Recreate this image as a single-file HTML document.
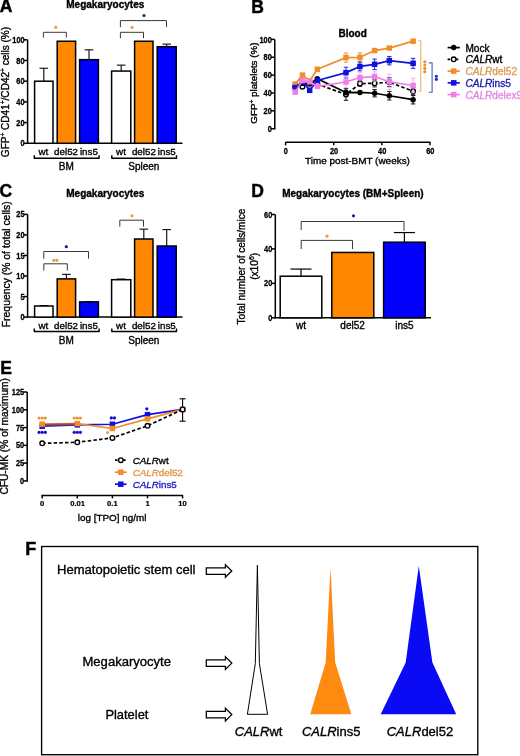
<!DOCTYPE html>
<html><head><meta charset="utf-8"><style>
html,body{margin:0;padding:0;background:#fff;}
body{width:520px;height:756px;overflow:hidden;}
svg{display:block;will-change:transform;font-family:"Liberation Sans",sans-serif;}
</style></head><body>
<svg width="520" height="756" viewBox="0 0 520 756">
<rect x="0" y="0" width="520" height="756" fill="#fff"/>
<text x="-0.30" y="12.30" font-size="17.5" font-weight="bold" text-anchor="start" fill="#000" stroke="#000" stroke-width="0.45"  >A</text>
<text x="251.30" y="12.70" font-size="17.5" font-weight="bold" text-anchor="start" fill="#000" stroke="#000" stroke-width="0.45"  >B</text>
<text x="-0.60" y="197.10" font-size="17.5" font-weight="bold" text-anchor="start" fill="#000" stroke="#000" stroke-width="0.45"  >C</text>
<text x="251.30" y="197.10" font-size="17.5" font-weight="bold" text-anchor="start" fill="#000" stroke="#000" stroke-width="0.45"  >D</text>
<text x="0.20" y="373.60" font-size="17.5" font-weight="bold" text-anchor="start" fill="#000" stroke="#000" stroke-width="0.45"  >E</text>
<text x="25.20" y="554.60" font-size="18" font-weight="bold" text-anchor="start" fill="#000" stroke="#000" stroke-width="0.45"  >F</text>
<text x="66.20" y="7.60" font-size="10.05" font-weight="bold" text-anchor="start" fill="#000" stroke="#000" stroke-width="0.35"  >Megakaryocytes</text>
<line x1="27.60" y1="39.80" x2="27.60" y2="144.05" stroke="#000" stroke-width="1.5" />
<line x1="23.60" y1="143.30" x2="27.60" y2="143.30" stroke="#000" stroke-width="1.5" />
<text transform="translate(24.60,146.40) scale(0.86,1)" font-size="8.6" font-weight="bold" text-anchor="end" fill="#000" stroke="#000" stroke-width="0.3">0</text>
<line x1="23.60" y1="122.60" x2="27.60" y2="122.60" stroke="#000" stroke-width="1.5" />
<text transform="translate(24.60,125.70) scale(0.86,1)" font-size="8.6" font-weight="bold" text-anchor="end" fill="#000" stroke="#000" stroke-width="0.3">20</text>
<line x1="23.60" y1="101.90" x2="27.60" y2="101.90" stroke="#000" stroke-width="1.5" />
<text transform="translate(24.60,105.00) scale(0.86,1)" font-size="8.6" font-weight="bold" text-anchor="end" fill="#000" stroke="#000" stroke-width="0.3">40</text>
<line x1="23.60" y1="81.20" x2="27.60" y2="81.20" stroke="#000" stroke-width="1.5" />
<text transform="translate(24.60,84.30) scale(0.86,1)" font-size="8.6" font-weight="bold" text-anchor="end" fill="#000" stroke="#000" stroke-width="0.3">60</text>
<line x1="23.60" y1="60.50" x2="27.60" y2="60.50" stroke="#000" stroke-width="1.5" />
<text transform="translate(24.60,63.60) scale(0.86,1)" font-size="8.6" font-weight="bold" text-anchor="end" fill="#000" stroke="#000" stroke-width="0.3">80</text>
<line x1="23.60" y1="39.80" x2="27.60" y2="39.80" stroke="#000" stroke-width="1.5" />
<text transform="translate(24.60,42.90) scale(0.86,1)" font-size="8.6" font-weight="bold" text-anchor="end" fill="#000" stroke="#000" stroke-width="0.3">100</text>
<line x1="26.85" y1="143.30" x2="182.50" y2="143.30" stroke="#000" stroke-width="1.5" />
<line x1="43.80" y1="68.26" x2="43.80" y2="81.20" stroke="#111" stroke-width="1.15" />
<line x1="39.50" y1="68.26" x2="48.10" y2="68.26" stroke="#111" stroke-width="1.15" />
<rect x="34.60" y="81.20" width="18.40" height="62.10" fill="#fff" stroke="#000" stroke-width="1.5"/>
<rect x="57.20" y="41.25" width="18.40" height="102.05" fill="#ff8800" stroke="#000" stroke-width="1.5"/>
<line x1="89.00" y1="49.84" x2="89.00" y2="59.67" stroke="#111" stroke-width="1.15" />
<line x1="84.70" y1="49.84" x2="93.30" y2="49.84" stroke="#111" stroke-width="1.15" />
<rect x="79.60" y="59.67" width="18.80" height="83.63" fill="#0000fc" stroke="#000" stroke-width="1.5"/>
<line x1="121.20" y1="65.16" x2="121.20" y2="71.06" stroke="#111" stroke-width="1.15" />
<line x1="116.90" y1="65.16" x2="125.50" y2="65.16" stroke="#111" stroke-width="1.15" />
<rect x="111.60" y="71.06" width="19.20" height="72.24" fill="#fff" stroke="#000" stroke-width="1.5"/>
<rect x="134.60" y="41.25" width="18.40" height="102.05" fill="#ff8800" stroke="#000" stroke-width="1.5"/>
<line x1="166.70" y1="44.15" x2="166.70" y2="46.73" stroke="#111" stroke-width="1.15" />
<line x1="162.40" y1="44.15" x2="171.00" y2="44.15" stroke="#111" stroke-width="1.15" />
<rect x="157.20" y="46.73" width="19.00" height="96.57" fill="#0000fc" stroke="#000" stroke-width="1.5"/>
<text x="43.40" y="154.90" font-size="9.8" font-weight="normal" text-anchor="middle" fill="#000" stroke="#000" stroke-width="0.35"  >wt</text>
<text x="66.10" y="154.90" font-size="9.8" font-weight="normal" text-anchor="middle" fill="#000" stroke="#000" stroke-width="0.35"  >del52</text>
<text x="88.90" y="154.90" font-size="9.8" font-weight="normal" text-anchor="middle" fill="#000" stroke="#000" stroke-width="0.35"  >ins5</text>
<text x="121.00" y="154.90" font-size="9.8" font-weight="normal" text-anchor="middle" fill="#000" stroke="#000" stroke-width="0.35"  >wt</text>
<text x="143.90" y="154.90" font-size="9.8" font-weight="normal" text-anchor="middle" fill="#000" stroke="#000" stroke-width="0.35"  >del52</text>
<text x="166.80" y="154.90" font-size="9.8" font-weight="normal" text-anchor="middle" fill="#000" stroke="#000" stroke-width="0.35"  >ins5</text>
<polyline points="34.30,155.30 34.30,158.30 99.10,158.30 99.10,155.30" fill="none" stroke="#000" stroke-width="1.45" stroke-linejoin="round" stroke-linejoin="miter"/>
<polyline points="111.80,155.30 111.80,158.30 176.50,158.30 176.50,155.30" fill="none" stroke="#000" stroke-width="1.45" stroke-linejoin="round" stroke-linejoin="miter"/>
<text x="66.30" y="169.60" font-size="10" font-weight="normal" text-anchor="middle" fill="#000" stroke="#000" stroke-width="0.35"  >BM</text>
<text x="143.80" y="169.60" font-size="10" font-weight="normal" text-anchor="middle" fill="#000" stroke="#000" stroke-width="0.35"  >Spleen</text>
<text transform="translate(8.90,92.00) rotate(-90)" x="0" y="0" font-size="10.05" font-weight="normal" text-anchor="middle" fill="#000" stroke="#000" stroke-width="0.35">GFP<tspan font-size="6.5" dy="-3.5">+</tspan><tspan dy="3.5"> CD41</tspan><tspan font-size="6.5" dy="-3.5">+</tspan><tspan dy="3.5">/CD42</tspan><tspan font-size="6.5" dy="-3.5">+</tspan><tspan dy="3.5"> cells (%)</tspan></text>
<polyline points="43.40,37.60 43.40,32.30 66.30,32.30 66.30,37.60" fill="none" stroke="#383838" stroke-width="1.0" stroke-linejoin="round" />
<circle cx="55.80" cy="27.40" r="1.60" fill="#e4a050"/>
<polyline points="120.40,27.20 120.40,20.60 166.50,20.60 166.50,27.20" fill="none" stroke="#383838" stroke-width="1.0" stroke-linejoin="round" />
<circle cx="144.00" cy="15.50" r="1.60" fill="#202090"/>
<polyline points="120.40,38.20 120.40,32.30 143.50,32.30 143.50,38.20" fill="none" stroke="#383838" stroke-width="1.0" stroke-linejoin="round" />
<circle cx="132.10" cy="27.30" r="1.60" fill="#e4a050"/>
<text x="66.20" y="196.60" font-size="10.05" font-weight="bold" text-anchor="start" fill="#000" stroke="#000" stroke-width="0.35"  >Megakaryocytes</text>
<line x1="27.60" y1="214.35" x2="27.60" y2="317.85" stroke="#000" stroke-width="1.5" />
<line x1="23.60" y1="317.10" x2="27.60" y2="317.10" stroke="#000" stroke-width="1.5" />
<text transform="translate(24.60,320.20) scale(0.86,1)" font-size="8.6" font-weight="bold" text-anchor="end" fill="#000" stroke="#000" stroke-width="0.3">0</text>
<line x1="23.60" y1="296.55" x2="27.60" y2="296.55" stroke="#000" stroke-width="1.5" />
<text transform="translate(24.60,299.65) scale(0.86,1)" font-size="8.6" font-weight="bold" text-anchor="end" fill="#000" stroke="#000" stroke-width="0.3">5</text>
<line x1="23.60" y1="276.00" x2="27.60" y2="276.00" stroke="#000" stroke-width="1.5" />
<text transform="translate(24.60,279.10) scale(0.86,1)" font-size="8.6" font-weight="bold" text-anchor="end" fill="#000" stroke="#000" stroke-width="0.3">10</text>
<line x1="23.60" y1="255.45" x2="27.60" y2="255.45" stroke="#000" stroke-width="1.5" />
<text transform="translate(24.60,258.55) scale(0.86,1)" font-size="8.6" font-weight="bold" text-anchor="end" fill="#000" stroke="#000" stroke-width="0.3">15</text>
<line x1="23.60" y1="234.90" x2="27.60" y2="234.90" stroke="#000" stroke-width="1.5" />
<text transform="translate(24.60,238.00) scale(0.86,1)" font-size="8.6" font-weight="bold" text-anchor="end" fill="#000" stroke="#000" stroke-width="0.3">20</text>
<line x1="23.60" y1="214.35" x2="27.60" y2="214.35" stroke="#000" stroke-width="1.5" />
<text transform="translate(24.60,217.45) scale(0.86,1)" font-size="8.6" font-weight="bold" text-anchor="end" fill="#000" stroke="#000" stroke-width="0.3">25</text>
<line x1="26.85" y1="317.10" x2="182.50" y2="317.10" stroke="#000" stroke-width="1.5" />
<line x1="43.80" y1="305.59" x2="43.80" y2="306.00" stroke="#111" stroke-width="1.15" />
<line x1="39.50" y1="305.59" x2="48.10" y2="305.59" stroke="#111" stroke-width="1.15" />
<rect x="34.60" y="306.00" width="18.40" height="11.10" fill="#fff" stroke="#000" stroke-width="1.5"/>
<line x1="66.40" y1="274.36" x2="66.40" y2="278.88" stroke="#111" stroke-width="1.15" />
<line x1="62.10" y1="274.36" x2="70.70" y2="274.36" stroke="#111" stroke-width="1.15" />
<rect x="57.20" y="278.88" width="18.40" height="38.22" fill="#ff8800" stroke="#000" stroke-width="1.5"/>
<line x1="89.00" y1="301.69" x2="89.00" y2="301.89" stroke="#111" stroke-width="1.15" />
<line x1="84.70" y1="301.69" x2="93.30" y2="301.69" stroke="#111" stroke-width="1.15" />
<rect x="79.60" y="301.89" width="18.80" height="15.21" fill="#0000fc" stroke="#000" stroke-width="1.5"/>
<line x1="121.20" y1="279.08" x2="121.20" y2="279.70" stroke="#111" stroke-width="1.15" />
<line x1="116.90" y1="279.08" x2="125.50" y2="279.08" stroke="#111" stroke-width="1.15" />
<rect x="111.60" y="279.70" width="19.20" height="37.40" fill="#fff" stroke="#000" stroke-width="1.5"/>
<line x1="143.80" y1="229.15" x2="143.80" y2="239.01" stroke="#111" stroke-width="1.15" />
<line x1="139.50" y1="229.15" x2="148.10" y2="229.15" stroke="#111" stroke-width="1.15" />
<rect x="134.60" y="239.01" width="18.40" height="78.09" fill="#ff8800" stroke="#000" stroke-width="1.5"/>
<line x1="166.70" y1="229.56" x2="166.70" y2="246.00" stroke="#111" stroke-width="1.15" />
<line x1="162.40" y1="229.56" x2="171.00" y2="229.56" stroke="#111" stroke-width="1.15" />
<rect x="157.20" y="246.00" width="19.00" height="71.10" fill="#0000fc" stroke="#000" stroke-width="1.5"/>
<text x="43.40" y="328.60" font-size="9.8" font-weight="normal" text-anchor="middle" fill="#000" stroke="#000" stroke-width="0.35"  >wt</text>
<text x="66.10" y="328.60" font-size="9.8" font-weight="normal" text-anchor="middle" fill="#000" stroke="#000" stroke-width="0.35"  >del52</text>
<text x="88.90" y="328.60" font-size="9.8" font-weight="normal" text-anchor="middle" fill="#000" stroke="#000" stroke-width="0.35"  >ins5</text>
<text x="121.00" y="328.60" font-size="9.8" font-weight="normal" text-anchor="middle" fill="#000" stroke="#000" stroke-width="0.35"  >wt</text>
<text x="143.90" y="328.60" font-size="9.8" font-weight="normal" text-anchor="middle" fill="#000" stroke="#000" stroke-width="0.35"  >del52</text>
<text x="166.80" y="328.60" font-size="9.8" font-weight="normal" text-anchor="middle" fill="#000" stroke="#000" stroke-width="0.35"  >ins5</text>
<polyline points="34.30,328.40 34.30,331.40 99.10,331.40 99.10,328.40" fill="none" stroke="#000" stroke-width="1.45" stroke-linejoin="round" stroke-linejoin="miter"/>
<polyline points="111.80,328.40 111.80,331.40 176.50,331.40 176.50,328.40" fill="none" stroke="#000" stroke-width="1.45" stroke-linejoin="round" stroke-linejoin="miter"/>
<text x="66.30" y="343.60" font-size="10" font-weight="normal" text-anchor="middle" fill="#000" stroke="#000" stroke-width="0.35"  >BM</text>
<text x="143.80" y="343.60" font-size="10" font-weight="normal" text-anchor="middle" fill="#000" stroke="#000" stroke-width="0.35"  >Spleen</text>
<text transform="translate(9.50,264.30) rotate(-90)" x="0" y="0" font-size="10.4" font-weight="normal" text-anchor="middle" fill="#000" stroke="#000" stroke-width="0.35">Frequency (% of total cells)</text>
<polyline points="43.80,258.70 43.80,251.50 88.50,251.50 88.50,258.70" fill="none" stroke="#383838" stroke-width="1.0" stroke-linejoin="round" />
<circle cx="66.30" cy="246.70" r="1.60" fill="#202090"/>
<polyline points="43.80,270.50 43.80,263.80 67.30,263.80 67.30,270.50" fill="none" stroke="#383838" stroke-width="1.0" stroke-linejoin="round" />
<circle cx="53.85" cy="260.30" r="1.60" fill="#e4a050"/>
<circle cx="56.95" cy="260.30" r="1.60" fill="#e4a050"/>
<polyline points="119.80,226.60 119.80,220.20 143.50,220.20 143.50,226.60" fill="none" stroke="#383838" stroke-width="1.0" stroke-linejoin="round" />
<circle cx="132.00" cy="215.80" r="1.60" fill="#e4a050"/>
<text x="338.50" y="36.80" font-size="10.0" font-weight="bold" text-anchor="start" fill="#000" stroke="#000" stroke-width="0.35"  >Blood</text>
<line x1="274.80" y1="39.40" x2="274.80" y2="129.45" stroke="#000" stroke-width="1.5" />
<line x1="270.80" y1="128.70" x2="274.80" y2="128.70" stroke="#000" stroke-width="1.5" />
<text transform="translate(271.80,131.80) scale(0.86,1)" font-size="8.6" font-weight="bold" text-anchor="end" fill="#000" stroke="#000" stroke-width="0.3">0</text>
<line x1="270.80" y1="110.84" x2="274.80" y2="110.84" stroke="#000" stroke-width="1.5" />
<text transform="translate(271.80,113.94) scale(0.86,1)" font-size="8.6" font-weight="bold" text-anchor="end" fill="#000" stroke="#000" stroke-width="0.3">20</text>
<line x1="270.80" y1="92.98" x2="274.80" y2="92.98" stroke="#000" stroke-width="1.5" />
<text transform="translate(271.80,96.08) scale(0.86,1)" font-size="8.6" font-weight="bold" text-anchor="end" fill="#000" stroke="#000" stroke-width="0.3">40</text>
<line x1="270.80" y1="75.12" x2="274.80" y2="75.12" stroke="#000" stroke-width="1.5" />
<text transform="translate(271.80,78.22) scale(0.86,1)" font-size="8.6" font-weight="bold" text-anchor="end" fill="#000" stroke="#000" stroke-width="0.3">60</text>
<line x1="270.80" y1="57.26" x2="274.80" y2="57.26" stroke="#000" stroke-width="1.5" />
<text transform="translate(271.80,60.36) scale(0.86,1)" font-size="8.6" font-weight="bold" text-anchor="end" fill="#000" stroke="#000" stroke-width="0.3">80</text>
<line x1="270.80" y1="39.40" x2="274.80" y2="39.40" stroke="#000" stroke-width="1.5" />
<text transform="translate(271.80,42.50) scale(0.86,1)" font-size="8.6" font-weight="bold" text-anchor="end" fill="#000" stroke="#000" stroke-width="0.3">100</text>
<line x1="285.40" y1="142.30" x2="430.40" y2="142.30" stroke="#000" stroke-width="1.5" />
<line x1="285.60" y1="142.30" x2="285.60" y2="145.30" stroke="#000" stroke-width="1.5" />
<text transform="translate(285.90,153.60) scale(0.86,1)" font-size="8.6" font-weight="bold" text-anchor="middle" fill="#000" stroke="#000" stroke-width="0.3">0</text>
<line x1="333.72" y1="142.30" x2="333.72" y2="145.30" stroke="#000" stroke-width="1.5" />
<text transform="translate(334.02,153.60) scale(0.86,1)" font-size="8.6" font-weight="bold" text-anchor="middle" fill="#000" stroke="#000" stroke-width="0.3">20</text>
<line x1="381.84" y1="142.30" x2="381.84" y2="145.30" stroke="#000" stroke-width="1.5" />
<text transform="translate(382.14,153.60) scale(0.86,1)" font-size="8.6" font-weight="bold" text-anchor="middle" fill="#000" stroke="#000" stroke-width="0.3">40</text>
<line x1="429.96" y1="142.30" x2="429.96" y2="145.30" stroke="#000" stroke-width="1.5" />
<text transform="translate(430.26,153.60) scale(0.86,1)" font-size="8.6" font-weight="bold" text-anchor="middle" fill="#000" stroke="#000" stroke-width="0.3">60</text>
<text x="305.00" y="164.10" font-size="9.95" font-weight="normal" text-anchor="start" fill="#000" stroke="#000" stroke-width="0.35"  >Time post-BMT (weeks)</text>
<text transform="translate(257.40,83.10) rotate(-90)" x="0" y="0" font-size="9.8" font-weight="normal" text-anchor="middle" fill="#000" stroke="#000" stroke-width="0.35">GFP<tspan font-size="6.5" dy="-3.5">+</tspan><tspan dy="3.5"> platelets (%)</tspan></text>
<line x1="302.44" y1="85.39" x2="302.44" y2="88.07" stroke="#000" stroke-width="0.9" />
<line x1="300.24" y1="85.39" x2="304.64" y2="85.39" stroke="#000" stroke-width="0.9" />
<line x1="300.24" y1="88.07" x2="304.64" y2="88.07" stroke="#000" stroke-width="0.9" />
<line x1="309.66" y1="80.92" x2="309.66" y2="83.60" stroke="#000" stroke-width="0.9" />
<line x1="307.46" y1="80.92" x2="311.86" y2="80.92" stroke="#000" stroke-width="0.9" />
<line x1="307.46" y1="83.60" x2="311.86" y2="83.60" stroke="#000" stroke-width="0.9" />
<line x1="317.36" y1="82.71" x2="317.36" y2="85.39" stroke="#000" stroke-width="0.9" />
<line x1="315.16" y1="82.71" x2="319.56" y2="82.71" stroke="#000" stroke-width="0.9" />
<line x1="315.16" y1="85.39" x2="319.56" y2="85.39" stroke="#000" stroke-width="0.9" />
<line x1="345.99" y1="88.69" x2="345.99" y2="100.30" stroke="#000" stroke-width="0.9" />
<line x1="343.79" y1="88.69" x2="348.19" y2="88.69" stroke="#000" stroke-width="0.9" />
<line x1="343.79" y1="100.30" x2="348.19" y2="100.30" stroke="#000" stroke-width="0.9" />
<line x1="359.95" y1="80.92" x2="359.95" y2="86.28" stroke="#000" stroke-width="0.9" />
<line x1="357.75" y1="80.92" x2="362.15" y2="80.92" stroke="#000" stroke-width="0.9" />
<line x1="357.75" y1="86.28" x2="362.15" y2="86.28" stroke="#000" stroke-width="0.9" />
<line x1="374.62" y1="79.76" x2="374.62" y2="86.91" stroke="#000" stroke-width="0.9" />
<line x1="372.42" y1="79.76" x2="376.82" y2="79.76" stroke="#000" stroke-width="0.9" />
<line x1="372.42" y1="86.91" x2="376.82" y2="86.91" stroke="#000" stroke-width="0.9" />
<line x1="389.30" y1="77.80" x2="389.30" y2="86.73" stroke="#000" stroke-width="0.9" />
<line x1="387.10" y1="77.80" x2="391.50" y2="77.80" stroke="#000" stroke-width="0.9" />
<line x1="387.10" y1="86.73" x2="391.50" y2="86.73" stroke="#000" stroke-width="0.9" />
<line x1="413.12" y1="87.71" x2="413.12" y2="94.86" stroke="#000" stroke-width="0.9" />
<line x1="410.92" y1="87.71" x2="415.32" y2="87.71" stroke="#000" stroke-width="0.9" />
<line x1="410.92" y1="94.86" x2="415.32" y2="94.86" stroke="#000" stroke-width="0.9" />
<polyline points="295.22,86.28 302.44,86.73 309.66,82.26 317.36,84.05 345.99,94.50 359.95,83.60 374.62,83.34 389.30,82.26 413.12,91.28" fill="none" stroke="#000" stroke-width="1.7" stroke-linejoin="round" stroke-dasharray="3.5,2.2"/>
<circle cx="295.22" cy="86.28" r="2.30" fill="#fff" stroke="#000" stroke-width="1.4"/>
<circle cx="302.44" cy="86.73" r="2.30" fill="#fff" stroke="#000" stroke-width="1.4"/>
<circle cx="309.66" cy="82.26" r="2.30" fill="#fff" stroke="#000" stroke-width="1.4"/>
<circle cx="317.36" cy="84.05" r="2.30" fill="#fff" stroke="#000" stroke-width="1.4"/>
<circle cx="345.99" cy="94.50" r="2.30" fill="#fff" stroke="#000" stroke-width="1.4"/>
<circle cx="359.95" cy="83.60" r="2.30" fill="#fff" stroke="#000" stroke-width="1.4"/>
<circle cx="374.62" cy="83.34" r="2.30" fill="#fff" stroke="#000" stroke-width="1.4"/>
<circle cx="389.30" cy="82.26" r="2.30" fill="#fff" stroke="#000" stroke-width="1.4"/>
<circle cx="413.12" cy="91.28" r="2.30" fill="#fff" stroke="#000" stroke-width="1.4"/>
<line x1="345.99" y1="90.30" x2="345.99" y2="94.77" stroke="#000" stroke-width="0.9" />
<line x1="343.79" y1="90.30" x2="348.19" y2="90.30" stroke="#000" stroke-width="0.9" />
<line x1="343.79" y1="94.77" x2="348.19" y2="94.77" stroke="#000" stroke-width="0.9" />
<line x1="374.62" y1="89.59" x2="374.62" y2="96.91" stroke="#000" stroke-width="0.9" />
<line x1="372.42" y1="89.59" x2="376.82" y2="89.59" stroke="#000" stroke-width="0.9" />
<line x1="372.42" y1="96.91" x2="376.82" y2="96.91" stroke="#000" stroke-width="0.9" />
<line x1="389.30" y1="91.46" x2="389.30" y2="100.03" stroke="#000" stroke-width="0.9" />
<line x1="387.10" y1="91.46" x2="391.50" y2="91.46" stroke="#000" stroke-width="0.9" />
<line x1="387.10" y1="100.03" x2="391.50" y2="100.03" stroke="#000" stroke-width="0.9" />
<line x1="413.12" y1="95.39" x2="413.12" y2="103.96" stroke="#000" stroke-width="0.9" />
<line x1="410.92" y1="95.39" x2="415.32" y2="95.39" stroke="#000" stroke-width="0.9" />
<line x1="410.92" y1="103.96" x2="415.32" y2="103.96" stroke="#000" stroke-width="0.9" />
<polyline points="295.22,86.73 302.44,83.16 309.66,84.05 317.36,78.69 345.99,92.53 359.95,92.44 374.62,93.25 389.30,95.75 413.12,99.68" fill="none" stroke="#000" stroke-width="1.7" stroke-linejoin="round" />
<circle cx="295.22" cy="86.73" r="2.75" fill="#000"/>
<circle cx="302.44" cy="83.16" r="2.75" fill="#000"/>
<circle cx="309.66" cy="84.05" r="2.75" fill="#000"/>
<circle cx="317.36" cy="78.69" r="2.75" fill="#000"/>
<circle cx="345.99" cy="92.53" r="2.75" fill="#000"/>
<circle cx="359.95" cy="92.44" r="2.75" fill="#000"/>
<circle cx="374.62" cy="93.25" r="2.75" fill="#000"/>
<circle cx="389.30" cy="95.75" r="2.75" fill="#000"/>
<circle cx="413.12" cy="99.68" r="2.75" fill="#000"/>
<line x1="295.22" y1="82.71" x2="295.22" y2="85.39" stroke="#f28c28" stroke-width="0.9" />
<line x1="293.02" y1="82.71" x2="297.42" y2="82.71" stroke="#f28c28" stroke-width="0.9" />
<line x1="293.02" y1="85.39" x2="297.42" y2="85.39" stroke="#f28c28" stroke-width="0.9" />
<line x1="302.44" y1="73.78" x2="302.44" y2="76.46" stroke="#f28c28" stroke-width="0.9" />
<line x1="300.24" y1="73.78" x2="304.64" y2="73.78" stroke="#f28c28" stroke-width="0.9" />
<line x1="300.24" y1="76.46" x2="304.64" y2="76.46" stroke="#f28c28" stroke-width="0.9" />
<line x1="309.66" y1="79.58" x2="309.66" y2="82.26" stroke="#f28c28" stroke-width="0.9" />
<line x1="307.46" y1="79.58" x2="311.86" y2="79.58" stroke="#f28c28" stroke-width="0.9" />
<line x1="307.46" y1="82.26" x2="311.86" y2="82.26" stroke="#f28c28" stroke-width="0.9" />
<line x1="317.36" y1="67.98" x2="317.36" y2="70.65" stroke="#f28c28" stroke-width="0.9" />
<line x1="315.16" y1="67.98" x2="319.56" y2="67.98" stroke="#f28c28" stroke-width="0.9" />
<line x1="315.16" y1="70.65" x2="319.56" y2="70.65" stroke="#f28c28" stroke-width="0.9" />
<line x1="345.99" y1="52.97" x2="345.99" y2="62.26" stroke="#f28c28" stroke-width="0.9" />
<line x1="343.79" y1="52.97" x2="348.19" y2="52.97" stroke="#f28c28" stroke-width="0.9" />
<line x1="343.79" y1="62.26" x2="348.19" y2="62.26" stroke="#f28c28" stroke-width="0.9" />
<line x1="359.95" y1="52.88" x2="359.95" y2="61.81" stroke="#f28c28" stroke-width="0.9" />
<line x1="357.75" y1="52.88" x2="362.15" y2="52.88" stroke="#f28c28" stroke-width="0.9" />
<line x1="357.75" y1="61.81" x2="362.15" y2="61.81" stroke="#f28c28" stroke-width="0.9" />
<line x1="374.62" y1="49.22" x2="374.62" y2="51.90" stroke="#f28c28" stroke-width="0.9" />
<line x1="372.42" y1="49.22" x2="376.82" y2="49.22" stroke="#f28c28" stroke-width="0.9" />
<line x1="372.42" y1="51.90" x2="376.82" y2="51.90" stroke="#f28c28" stroke-width="0.9" />
<line x1="389.30" y1="46.72" x2="389.30" y2="49.40" stroke="#f28c28" stroke-width="0.9" />
<line x1="387.10" y1="46.72" x2="391.50" y2="46.72" stroke="#f28c28" stroke-width="0.9" />
<line x1="387.10" y1="49.40" x2="391.50" y2="49.40" stroke="#f28c28" stroke-width="0.9" />
<line x1="413.12" y1="40.29" x2="413.12" y2="42.08" stroke="#f28c28" stroke-width="0.9" />
<line x1="410.92" y1="40.29" x2="415.32" y2="40.29" stroke="#f28c28" stroke-width="0.9" />
<line x1="410.92" y1="42.08" x2="415.32" y2="42.08" stroke="#f28c28" stroke-width="0.9" />
<polyline points="295.22,84.05 302.44,75.12 309.66,80.92 317.36,69.32 345.99,57.62 359.95,57.35 374.62,50.56 389.30,48.06 413.12,41.19" fill="none" stroke="#f28c28" stroke-width="1.7" stroke-linejoin="round" />
<rect x="292.47" y="81.30" width="5.50" height="5.50" fill="#f28c28"/>
<rect x="299.69" y="72.37" width="5.50" height="5.50" fill="#f28c28"/>
<rect x="306.91" y="78.17" width="5.50" height="5.50" fill="#f28c28"/>
<rect x="314.61" y="66.57" width="5.50" height="5.50" fill="#f28c28"/>
<rect x="343.24" y="54.87" width="5.50" height="5.50" fill="#f28c28"/>
<rect x="357.20" y="54.60" width="5.50" height="5.50" fill="#f28c28"/>
<rect x="371.87" y="47.81" width="5.50" height="5.50" fill="#f28c28"/>
<rect x="386.55" y="45.31" width="5.50" height="5.50" fill="#f28c28"/>
<rect x="410.37" y="38.44" width="5.50" height="5.50" fill="#f28c28"/>
<line x1="295.22" y1="86.28" x2="295.22" y2="88.96" stroke="#1010e0" stroke-width="0.9" />
<line x1="293.02" y1="86.28" x2="297.42" y2="86.28" stroke="#1010e0" stroke-width="0.9" />
<line x1="293.02" y1="88.96" x2="297.42" y2="88.96" stroke="#1010e0" stroke-width="0.9" />
<line x1="302.44" y1="80.03" x2="302.44" y2="82.71" stroke="#1010e0" stroke-width="0.9" />
<line x1="300.24" y1="80.03" x2="304.64" y2="80.03" stroke="#1010e0" stroke-width="0.9" />
<line x1="300.24" y1="82.71" x2="304.64" y2="82.71" stroke="#1010e0" stroke-width="0.9" />
<line x1="309.66" y1="88.96" x2="309.66" y2="91.64" stroke="#1010e0" stroke-width="0.9" />
<line x1="307.46" y1="88.96" x2="311.86" y2="88.96" stroke="#1010e0" stroke-width="0.9" />
<line x1="307.46" y1="91.64" x2="311.86" y2="91.64" stroke="#1010e0" stroke-width="0.9" />
<line x1="317.36" y1="79.14" x2="317.36" y2="81.82" stroke="#1010e0" stroke-width="0.9" />
<line x1="315.16" y1="79.14" x2="319.56" y2="79.14" stroke="#1010e0" stroke-width="0.9" />
<line x1="315.16" y1="81.82" x2="319.56" y2="81.82" stroke="#1010e0" stroke-width="0.9" />
<line x1="345.99" y1="67.26" x2="345.99" y2="77.98" stroke="#1010e0" stroke-width="0.9" />
<line x1="343.79" y1="67.26" x2="348.19" y2="67.26" stroke="#1010e0" stroke-width="0.9" />
<line x1="343.79" y1="77.98" x2="348.19" y2="77.98" stroke="#1010e0" stroke-width="0.9" />
<line x1="359.95" y1="61.99" x2="359.95" y2="70.92" stroke="#1010e0" stroke-width="0.9" />
<line x1="357.75" y1="61.99" x2="362.15" y2="61.99" stroke="#1010e0" stroke-width="0.9" />
<line x1="357.75" y1="70.92" x2="362.15" y2="70.92" stroke="#1010e0" stroke-width="0.9" />
<line x1="374.62" y1="59.05" x2="374.62" y2="69.58" stroke="#1010e0" stroke-width="0.9" />
<line x1="372.42" y1="59.05" x2="376.82" y2="59.05" stroke="#1010e0" stroke-width="0.9" />
<line x1="372.42" y1="69.58" x2="376.82" y2="69.58" stroke="#1010e0" stroke-width="0.9" />
<line x1="389.30" y1="56.46" x2="389.30" y2="64.85" stroke="#1010e0" stroke-width="0.9" />
<line x1="387.10" y1="56.46" x2="391.50" y2="56.46" stroke="#1010e0" stroke-width="0.9" />
<line x1="387.10" y1="64.85" x2="391.50" y2="64.85" stroke="#1010e0" stroke-width="0.9" />
<line x1="413.12" y1="58.33" x2="413.12" y2="68.33" stroke="#1010e0" stroke-width="0.9" />
<line x1="410.92" y1="58.33" x2="415.32" y2="58.33" stroke="#1010e0" stroke-width="0.9" />
<line x1="410.92" y1="68.33" x2="415.32" y2="68.33" stroke="#1010e0" stroke-width="0.9" />
<polyline points="295.22,87.62 302.44,81.37 309.66,90.30 317.36,80.48 345.99,72.62 359.95,66.46 374.62,64.31 389.30,60.65 413.12,63.33" fill="none" stroke="#1010e0" stroke-width="1.7" stroke-linejoin="round" />
<rect x="292.47" y="84.87" width="5.50" height="5.50" fill="#1010e0"/>
<rect x="299.69" y="78.62" width="5.50" height="5.50" fill="#1010e0"/>
<rect x="306.91" y="87.55" width="5.50" height="5.50" fill="#1010e0"/>
<rect x="314.61" y="77.73" width="5.50" height="5.50" fill="#1010e0"/>
<rect x="343.24" y="69.87" width="5.50" height="5.50" fill="#1010e0"/>
<rect x="357.20" y="63.71" width="5.50" height="5.50" fill="#1010e0"/>
<rect x="371.87" y="61.56" width="5.50" height="5.50" fill="#1010e0"/>
<rect x="386.55" y="57.90" width="5.50" height="5.50" fill="#1010e0"/>
<rect x="410.37" y="60.58" width="5.50" height="5.50" fill="#1010e0"/>
<line x1="295.22" y1="90.75" x2="295.22" y2="93.43" stroke="#f0a8ec" stroke-width="0.9" />
<line x1="293.02" y1="90.75" x2="297.42" y2="90.75" stroke="#f0a8ec" stroke-width="0.9" />
<line x1="293.02" y1="93.43" x2="297.42" y2="93.43" stroke="#f0a8ec" stroke-width="0.9" />
<line x1="302.44" y1="79.14" x2="302.44" y2="81.82" stroke="#f0a8ec" stroke-width="0.9" />
<line x1="300.24" y1="79.14" x2="304.64" y2="79.14" stroke="#f0a8ec" stroke-width="0.9" />
<line x1="300.24" y1="81.82" x2="304.64" y2="81.82" stroke="#f0a8ec" stroke-width="0.9" />
<line x1="309.66" y1="80.48" x2="309.66" y2="83.16" stroke="#f0a8ec" stroke-width="0.9" />
<line x1="307.46" y1="80.48" x2="311.86" y2="80.48" stroke="#f0a8ec" stroke-width="0.9" />
<line x1="307.46" y1="83.16" x2="311.86" y2="83.16" stroke="#f0a8ec" stroke-width="0.9" />
<line x1="317.36" y1="85.03" x2="317.36" y2="87.71" stroke="#f0a8ec" stroke-width="0.9" />
<line x1="315.16" y1="85.03" x2="319.56" y2="85.03" stroke="#f0a8ec" stroke-width="0.9" />
<line x1="315.16" y1="87.71" x2="319.56" y2="87.71" stroke="#f0a8ec" stroke-width="0.9" />
<line x1="345.99" y1="76.64" x2="345.99" y2="87.35" stroke="#f0a8ec" stroke-width="0.9" />
<line x1="343.79" y1="76.64" x2="348.19" y2="76.64" stroke="#f0a8ec" stroke-width="0.9" />
<line x1="343.79" y1="87.35" x2="348.19" y2="87.35" stroke="#f0a8ec" stroke-width="0.9" />
<line x1="359.95" y1="72.17" x2="359.95" y2="82.89" stroke="#f0a8ec" stroke-width="0.9" />
<line x1="357.75" y1="72.17" x2="362.15" y2="72.17" stroke="#f0a8ec" stroke-width="0.9" />
<line x1="357.75" y1="82.89" x2="362.15" y2="82.89" stroke="#f0a8ec" stroke-width="0.9" />
<line x1="374.62" y1="71.82" x2="374.62" y2="81.28" stroke="#f0a8ec" stroke-width="0.9" />
<line x1="372.42" y1="71.82" x2="376.82" y2="71.82" stroke="#f0a8ec" stroke-width="0.9" />
<line x1="372.42" y1="81.28" x2="376.82" y2="81.28" stroke="#f0a8ec" stroke-width="0.9" />
<line x1="389.30" y1="74.05" x2="389.30" y2="89.59" stroke="#f0a8ec" stroke-width="0.9" />
<line x1="387.10" y1="74.05" x2="391.50" y2="74.05" stroke="#f0a8ec" stroke-width="0.9" />
<line x1="387.10" y1="89.59" x2="391.50" y2="89.59" stroke="#f0a8ec" stroke-width="0.9" />
<line x1="413.12" y1="78.16" x2="413.12" y2="92.80" stroke="#f0a8ec" stroke-width="0.9" />
<line x1="410.92" y1="78.16" x2="415.32" y2="78.16" stroke="#f0a8ec" stroke-width="0.9" />
<line x1="410.92" y1="92.80" x2="415.32" y2="92.80" stroke="#f0a8ec" stroke-width="0.9" />
<polyline points="295.22,92.09 302.44,80.48 309.66,81.82 317.36,86.37 345.99,82.00 359.95,77.53 374.62,76.55 389.30,81.82 413.12,85.48" fill="none" stroke="#ee7ee8" stroke-width="1.7" stroke-linejoin="round" />
<rect x="292.47" y="89.34" width="5.50" height="5.50" fill="#ee7ee8"/>
<rect x="299.69" y="77.73" width="5.50" height="5.50" fill="#ee7ee8"/>
<rect x="306.91" y="79.07" width="5.50" height="5.50" fill="#ee7ee8"/>
<rect x="314.61" y="83.62" width="5.50" height="5.50" fill="#ee7ee8"/>
<rect x="343.24" y="79.25" width="5.50" height="5.50" fill="#ee7ee8"/>
<rect x="357.20" y="74.78" width="5.50" height="5.50" fill="#ee7ee8"/>
<rect x="371.87" y="73.80" width="5.50" height="5.50" fill="#ee7ee8"/>
<rect x="386.55" y="79.07" width="5.50" height="5.50" fill="#ee7ee8"/>
<rect x="410.37" y="82.73" width="5.50" height="5.50" fill="#ee7ee8"/>
<polyline points="418.30,40.80 420.80,40.80 420.80,91.20 418.30,91.20" fill="none" stroke="#f0b060" stroke-width="1.1" stroke-linejoin="round" />
<circle cx="424.80" cy="61.75" r="1.60" fill="#e89030"/>
<circle cx="424.80" cy="65.05" r="1.60" fill="#e89030"/>
<circle cx="424.80" cy="68.35" r="1.60" fill="#e89030"/>
<circle cx="424.80" cy="71.65" r="1.60" fill="#e89030"/>
<polyline points="428.80,62.90 432.10,62.90 432.10,92.30 428.80,92.30" fill="none" stroke="#5060a8" stroke-width="1.1" stroke-linejoin="round" />
<circle cx="436.40" cy="76.25" r="1.60" fill="#2030c0"/>
<circle cx="436.40" cy="79.35" r="1.60" fill="#2030c0"/>
<line x1="447.60" y1="47.60" x2="459.80" y2="47.60" stroke="#000" stroke-width="1.7" />
<circle cx="453.70" cy="47.60" r="2.75" fill="#000"/>
<text x="465.40" y="51.60" font-size="10.1" font-weight="normal" text-anchor="start" fill="#000" stroke="#000" stroke-width="0.35"  >Mock</text>
<line x1="447.60" y1="59.35" x2="459.80" y2="59.35" stroke="#000" stroke-width="1.7" stroke-dasharray="2.5,1.6"/>
<circle cx="453.70" cy="59.35" r="2.30" fill="#fff" stroke="#000" stroke-width="1.4"/>
<text x="465.4" y="63.45" font-size="10.1" fill="#000" stroke="#000" stroke-width="0.35"><tspan font-style="italic">CALR</tspan>wt</text>
<line x1="447.60" y1="71.10" x2="459.80" y2="71.10" stroke="#f28c28" stroke-width="1.7" />
<rect x="450.95" y="68.35" width="5.50" height="5.50" fill="#f28c28"/>
<text x="465.4" y="75.20" font-size="10.1" fill="#dc9c58" stroke="#dc9c58" stroke-width="0.35"><tspan font-style="italic">CALR</tspan>del52</text>
<line x1="447.60" y1="82.85" x2="459.80" y2="82.85" stroke="#1010e0" stroke-width="1.7" />
<rect x="450.95" y="80.10" width="5.50" height="5.50" fill="#1010e0"/>
<text x="465.4" y="86.95" font-size="10.1" fill="#1c1cb0" stroke="#1c1cb0" stroke-width="0.35"><tspan font-style="italic">CALR</tspan>ins5</text>
<line x1="447.60" y1="94.60" x2="459.80" y2="94.60" stroke="#ee7ee8" stroke-width="1.7" />
<rect x="450.95" y="91.85" width="5.50" height="5.50" fill="#ee7ee8"/>
<text x="465.4" y="98.70" font-size="10.1" fill="#e088e0" stroke="#e088e0" stroke-width="0.35"><tspan font-style="italic">CALR</tspan>delex9</text>
<text x="282.20" y="196.70" font-size="10.0" font-weight="bold" text-anchor="start" fill="#000" stroke="#000" stroke-width="0.35"  >Megakaryocytes (BM+Spleen)</text>
<line x1="275.30" y1="214.48" x2="275.30" y2="318.55" stroke="#000" stroke-width="1.5" />
<line x1="271.30" y1="317.80" x2="275.30" y2="317.80" stroke="#000" stroke-width="1.5" />
<text transform="translate(272.30,320.90) scale(0.86,1)" font-size="8.6" font-weight="bold" text-anchor="end" fill="#000" stroke="#000" stroke-width="0.3">0</text>
<line x1="271.30" y1="283.36" x2="275.30" y2="283.36" stroke="#000" stroke-width="1.5" />
<text transform="translate(272.30,286.46) scale(0.86,1)" font-size="8.6" font-weight="bold" text-anchor="end" fill="#000" stroke="#000" stroke-width="0.3">20</text>
<line x1="271.30" y1="248.92" x2="275.30" y2="248.92" stroke="#000" stroke-width="1.5" />
<text transform="translate(272.30,252.02) scale(0.86,1)" font-size="8.6" font-weight="bold" text-anchor="end" fill="#000" stroke="#000" stroke-width="0.3">40</text>
<line x1="271.30" y1="214.48" x2="275.30" y2="214.48" stroke="#000" stroke-width="1.5" />
<text transform="translate(272.30,217.58) scale(0.86,1)" font-size="8.6" font-weight="bold" text-anchor="end" fill="#000" stroke="#000" stroke-width="0.3">60</text>
<line x1="274.55" y1="317.80" x2="431.00" y2="317.80" stroke="#000" stroke-width="1.5" />
<line x1="301.00" y1="269.07" x2="301.00" y2="276.21" stroke="#000" stroke-width="1.2" />
<line x1="290.50" y1="269.07" x2="311.50" y2="269.07" stroke="#000" stroke-width="1.2" />
<rect x="280.20" y="276.21" width="41.60" height="41.59" fill="#fff" stroke="#000" stroke-width="1.5"/>
<rect x="331.80" y="252.45" width="42.00" height="65.35" fill="#ff8800" stroke="#000" stroke-width="1.5"/>
<line x1="404.40" y1="232.56" x2="404.40" y2="242.20" stroke="#000" stroke-width="1.2" />
<line x1="393.90" y1="232.56" x2="414.90" y2="232.56" stroke="#000" stroke-width="1.2" />
<rect x="383.60" y="242.20" width="41.60" height="75.60" fill="#0000fc" stroke="#000" stroke-width="1.5"/>
<text x="301.00" y="329.20" font-size="10" font-weight="normal" text-anchor="middle" fill="#000" stroke="#000" stroke-width="0.35"  >wt</text>
<text x="352.60" y="329.20" font-size="10" font-weight="normal" text-anchor="middle" fill="#000" stroke="#000" stroke-width="0.35"  >del52</text>
<text x="404.40" y="329.20" font-size="10" font-weight="normal" text-anchor="middle" fill="#000" stroke="#000" stroke-width="0.35"  >ins5</text>
<polyline points="301.20,230.00 301.20,221.50 404.00,221.50 404.00,230.80" fill="none" stroke="#383838" stroke-width="1.0" stroke-linejoin="round" />
<circle cx="353.50" cy="215.80" r="1.60" fill="#202090"/>
<polyline points="301.20,249.00 301.20,240.40 352.50,240.40 352.50,249.00" fill="none" stroke="#383838" stroke-width="1.0" stroke-linejoin="round" />
<circle cx="327.00" cy="236.20" r="1.60" fill="#e4a050"/>
<text transform="translate(244.80,266.60) rotate(-90)" x="0" y="0" font-size="10.0" font-weight="normal" text-anchor="middle" fill="#000" stroke="#000" stroke-width="0.35">Total number of cells/mice</text>
<text transform="translate(257.80,266.30) rotate(-90)" x="0" y="0" font-size="10.2" font-weight="normal" text-anchor="middle" fill="#000" stroke="#000" stroke-width="0.35">(x10<tspan font-size="7" dy="-3.5">6</tspan><tspan dy="3.5">)</tspan></text>
<line x1="27.20" y1="392.02" x2="27.20" y2="481.65" stroke="#000" stroke-width="1.5" />
<line x1="23.20" y1="480.90" x2="27.20" y2="480.90" stroke="#000" stroke-width="1.5" />
<text transform="translate(24.20,484.00) scale(0.86,1)" font-size="8.6" font-weight="bold" text-anchor="end" fill="#000" stroke="#000" stroke-width="0.3">0</text>
<line x1="23.20" y1="463.12" x2="27.20" y2="463.12" stroke="#000" stroke-width="1.5" />
<text transform="translate(24.20,466.22) scale(0.86,1)" font-size="8.6" font-weight="bold" text-anchor="end" fill="#000" stroke="#000" stroke-width="0.3">25</text>
<line x1="23.20" y1="445.35" x2="27.20" y2="445.35" stroke="#000" stroke-width="1.5" />
<text transform="translate(24.20,448.45) scale(0.86,1)" font-size="8.6" font-weight="bold" text-anchor="end" fill="#000" stroke="#000" stroke-width="0.3">50</text>
<line x1="23.20" y1="427.57" x2="27.20" y2="427.57" stroke="#000" stroke-width="1.5" />
<text transform="translate(24.20,430.67) scale(0.86,1)" font-size="8.6" font-weight="bold" text-anchor="end" fill="#000" stroke="#000" stroke-width="0.3">75</text>
<line x1="23.20" y1="409.80" x2="27.20" y2="409.80" stroke="#000" stroke-width="1.5" />
<text transform="translate(24.20,412.90) scale(0.86,1)" font-size="8.6" font-weight="bold" text-anchor="end" fill="#000" stroke="#000" stroke-width="0.3">100</text>
<line x1="23.20" y1="392.02" x2="27.20" y2="392.02" stroke="#000" stroke-width="1.5" />
<text transform="translate(24.20,395.12) scale(0.86,1)" font-size="8.6" font-weight="bold" text-anchor="end" fill="#000" stroke="#000" stroke-width="0.3">125</text>
<line x1="41.40" y1="495.40" x2="183.00" y2="495.40" stroke="#000" stroke-width="1.5" />
<line x1="42.20" y1="495.40" x2="42.20" y2="498.40" stroke="#000" stroke-width="1.5" />
<text x="42.20" y="505.70" font-size="7.6" font-weight="bold" text-anchor="middle" fill="#000" stroke="#000" stroke-width="0.22"  >0</text>
<line x1="77.30" y1="495.40" x2="77.30" y2="498.40" stroke="#000" stroke-width="1.5" />
<text x="77.60" y="505.70" font-size="7.6" font-weight="bold" text-anchor="middle" fill="#000" stroke="#000" stroke-width="0.22"  >0.01</text>
<line x1="112.40" y1="495.40" x2="112.40" y2="498.40" stroke="#000" stroke-width="1.5" />
<text x="112.40" y="505.70" font-size="7.6" font-weight="bold" text-anchor="middle" fill="#000" stroke="#000" stroke-width="0.22"  >0.1</text>
<line x1="147.50" y1="495.40" x2="147.50" y2="498.40" stroke="#000" stroke-width="1.5" />
<text x="147.50" y="505.70" font-size="7.6" font-weight="bold" text-anchor="middle" fill="#000" stroke="#000" stroke-width="0.22"  >1</text>
<line x1="182.60" y1="495.40" x2="182.60" y2="498.40" stroke="#000" stroke-width="1.5" />
<text x="182.60" y="505.70" font-size="7.6" font-weight="bold" text-anchor="middle" fill="#000" stroke="#000" stroke-width="0.22"  >10</text>
<text x="77.80" y="520.90" font-size="9.9" font-weight="normal" text-anchor="start" fill="#000" stroke="#000" stroke-width="0.35"  >log [TPO] ng/ml</text>
<text transform="translate(8.20,436.30) rotate(-90)" x="0" y="0" font-size="10.2" font-weight="normal" text-anchor="middle" fill="#000" stroke="#000" stroke-width="0.35">CFU-MK (% of maximum)</text>
<line x1="182.60" y1="398.78" x2="182.60" y2="421.18" stroke="#000" stroke-width="1.1" />
<line x1="179.60" y1="398.78" x2="185.60" y2="398.78" stroke="#000" stroke-width="1.1" />
<line x1="179.60" y1="421.18" x2="185.60" y2="421.18" stroke="#000" stroke-width="1.1" />
<polyline points="42.20,426.15 77.30,424.87 112.40,424.23 147.50,414.63 182.60,409.44" fill="none" stroke="#1010e0" stroke-width="1.7" stroke-linejoin="round" />
<rect x="39.45" y="423.40" width="5.50" height="5.50" fill="#1010e0"/>
<rect x="74.55" y="422.12" width="5.50" height="5.50" fill="#1010e0"/>
<rect x="109.65" y="421.48" width="5.50" height="5.50" fill="#1010e0"/>
<rect x="144.75" y="411.88" width="5.50" height="5.50" fill="#1010e0"/>
<rect x="179.85" y="406.69" width="5.50" height="5.50" fill="#1010e0"/>
<polyline points="42.20,424.16 77.30,423.59 112.40,428.50 147.50,418.83 182.60,409.44" fill="none" stroke="#f28c28" stroke-width="1.7" stroke-linejoin="round" />
<rect x="39.45" y="421.41" width="5.50" height="5.50" fill="#f28c28"/>
<rect x="74.55" y="420.84" width="5.50" height="5.50" fill="#f28c28"/>
<rect x="109.65" y="425.75" width="5.50" height="5.50" fill="#f28c28"/>
<rect x="144.75" y="416.08" width="5.50" height="5.50" fill="#f28c28"/>
<rect x="179.85" y="406.69" width="5.50" height="5.50" fill="#f28c28"/>
<polyline points="44.80,424.73 74.70,424.16" fill="none" stroke="#a04838" stroke-width="2.0" stroke-linejoin="round" />
<polyline points="42.20,443.36 77.30,442.29 112.40,437.88 147.50,425.80 182.60,409.44" fill="none" stroke="#000" stroke-width="1.7" stroke-linejoin="round" stroke-dasharray="3.5,2.2"/>
<circle cx="42.20" cy="443.36" r="2.30" fill="#fff" stroke="#000" stroke-width="1.4"/>
<circle cx="77.30" cy="442.29" r="2.30" fill="#fff" stroke="#000" stroke-width="1.4"/>
<circle cx="112.40" cy="437.88" r="2.30" fill="#fff" stroke="#000" stroke-width="1.4"/>
<circle cx="147.50" cy="425.80" r="2.30" fill="#fff" stroke="#000" stroke-width="1.4"/>
<circle cx="182.60" cy="409.44" r="2.30" fill="#fff" stroke="#000" stroke-width="1.4"/>
<circle cx="39.10" cy="418.00" r="1.60" fill="#f09030"/>
<circle cx="42.20" cy="418.00" r="1.60" fill="#f09030"/>
<circle cx="45.30" cy="418.00" r="1.60" fill="#f09030"/>
<circle cx="39.10" cy="432.30" r="1.60" fill="#1010d0"/>
<circle cx="42.20" cy="432.30" r="1.60" fill="#1010d0"/>
<circle cx="45.30" cy="432.30" r="1.60" fill="#1010d0"/>
<circle cx="74.20" cy="418.00" r="1.60" fill="#f09030"/>
<circle cx="77.30" cy="418.00" r="1.60" fill="#f09030"/>
<circle cx="80.40" cy="418.00" r="1.60" fill="#f09030"/>
<circle cx="74.20" cy="432.30" r="1.60" fill="#1010d0"/>
<circle cx="77.30" cy="432.30" r="1.60" fill="#1010d0"/>
<circle cx="80.40" cy="432.30" r="1.60" fill="#1010d0"/>
<circle cx="111.35" cy="417.90" r="1.60" fill="#1010d0"/>
<circle cx="114.45" cy="417.90" r="1.60" fill="#1010d0"/>
<circle cx="107.60" cy="432.60" r="1.60" fill="#e8a060"/>
<circle cx="146.80" cy="408.80" r="1.60" fill="#1010d0"/>
<line x1="115.00" y1="460.20" x2="126.60" y2="460.20" stroke="#000" stroke-width="1.7" stroke-dasharray="2.5,1.6"/>
<circle cx="120.80" cy="460.20" r="2.30" fill="#fff" stroke="#000" stroke-width="1.4"/>
<text x="132.7" y="464.00" font-size="9.8" fill="#000" stroke="#000" stroke-width="0.35"><tspan font-style="italic">CALR</tspan>wt</text>
<line x1="115.00" y1="472.20" x2="126.60" y2="472.20" stroke="#f28c28" stroke-width="1.7" />
<rect x="118.05" y="469.45" width="5.50" height="5.50" fill="#f28c28"/>
<text x="132.7" y="476.00" font-size="9.8" fill="#e09850" stroke="#e09850" stroke-width="0.35"><tspan font-style="italic">CALR</tspan>del52</text>
<line x1="115.00" y1="484.20" x2="126.60" y2="484.20" stroke="#1010e0" stroke-width="1.7" />
<rect x="118.05" y="481.45" width="5.50" height="5.50" fill="#1010e0"/>
<text x="132.7" y="488.00" font-size="9.8" fill="#1c1cc0" stroke="#1c1cc0" stroke-width="0.35"><tspan font-style="italic">CALR</tspan>ins5</text>
<rect x="41.60" y="546.50" width="436.20" height="208.20" fill="none" stroke="#000" stroke-width="1.35"/>
<text x="57.00" y="574.30" font-size="13.05" font-weight="normal" text-anchor="start" fill="#000" stroke="#000" stroke-width="0.35"  >Hematopoietic stem cell</text>
<text x="82.50" y="666.20" font-size="13.05" font-weight="normal" text-anchor="start" fill="#000" stroke="#000" stroke-width="0.35"  >Megakaryocyte</text>
<text x="105.40" y="719.00" font-size="12.9" font-weight="normal" text-anchor="start" fill="#000" stroke="#000" stroke-width="0.35"  >Platelet</text>
<polygon points="206.30,567.75 225.40,567.75 225.40,564.70 231.80,571.00 225.40,577.30 225.40,574.25 206.30,574.25" fill="#fff" stroke="#000" stroke-width="1.25" />
<polygon points="206.30,659.85 225.40,659.85 225.40,656.80 231.80,663.10 225.40,669.40 225.40,666.35 206.30,666.35" fill="#fff" stroke="#000" stroke-width="1.25" />
<polygon points="206.30,711.35 225.40,711.35 225.40,708.30 231.80,714.60 225.40,720.90 225.40,717.85 206.30,717.85" fill="#fff" stroke="#000" stroke-width="1.25" />
<polygon points="257.40,565.20 259.40,663.60 267.60,714.30 247.40,714.30 255.30,663.60" fill="#fff" stroke="#000" stroke-width="1.0" stroke-linejoin="miter"/>
<polygon points="330.50,567.00 335.20,662.40 351.40,714.30 310.20,714.30 325.70,662.40" fill="#ff8a10" stroke="none" stroke-width="1" />
<polygon points="418.80,566.00 432.40,662.40 456.20,714.30 380.70,714.30 405.70,662.40" fill="#0a0af5" stroke="none" stroke-width="1" />
<text x="234.80" y="735.9" font-size="13" fill="#000" stroke="#000" stroke-width="0.35"><tspan font-style="italic">CALR</tspan>wt</text>
<text x="301.90" y="735.9" font-size="13" fill="#000" stroke="#000" stroke-width="0.35"><tspan font-style="italic">CALR</tspan>ins5</text>
<text x="386.70" y="735.9" font-size="13" fill="#000" stroke="#000" stroke-width="0.35"><tspan font-style="italic">CALR</tspan>del52</text>
</svg>
</body></html>
